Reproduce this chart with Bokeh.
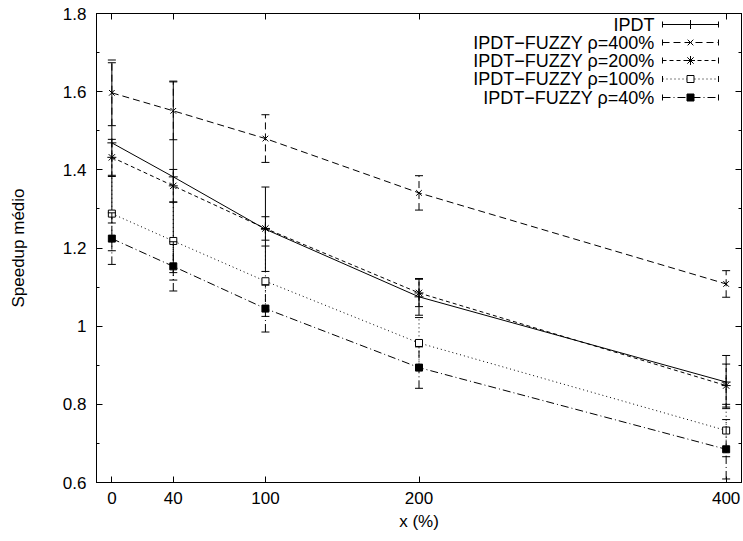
from bokeh.plotting import figure
from bokeh.models import (Range1d, LinearAxis, FixedTicker, SingleIntervalTicker,
                          Label, CustomJSTickFormatter)
from bokeh.embed import file_html
from bokeh.resources import INLINE

# ---------------- data ----------------
x_vals = [0, 40, 100, 200, 400]
x_ticks = [0, 40, 100, 200, 400]

ipdt = [1.469, 1.382, 1.248, 1.075, 0.857]
ipdt_err = [0.205, 0.245, 0.108, 0.047, 0.068]

f400 = [1.597, 1.551, 1.480, 1.341, 1.108]
f400_err = [0.084, 0.074, 0.061, 0.044, 0.034]

f200 = [1.432, 1.359, 1.250, 1.085, 0.848]
f200_err = [0.046, 0.042, 0.030, 0.035, 0.055]

f100 = [1.288, 1.218, 1.115, 0.957, 0.733]
f100_err = [0.095, 0.100, 0.090, 0.065, 0.067]

f40 = [1.224, 1.153, 1.045, 0.894, 0.685]
f40_err = [0.066, 0.063, 0.060, 0.053, 0.076]

labels = ["IPDT", "IPDT\u2212FUZZY \u03c1=400%", "IPDT\u2212FUZZY \u03c1=200%",
          "IPDT\u2212FUZZY \u03c1=100%", "IPDT\u2212FUZZY \u03c1=40%"]

# ---------------- layout ----------------
W, H = 743, 541
FL, FR, FT, FB = 96, 741, 13, 482
X0, X1 = -10, 410
Y0, Y1 = 0.6, 1.8
FONT = "Liberation Sans"
FS = "17px"
LFS = "18px"

def dx(px):
    return X0 + (px - FL) * (X1 - X0) / (FR - FL)

def dy(py):
    return Y0 + (FB - py) * (Y1 - Y0) / (FB - FT)

p = figure(width=W, height=H, output_backend="svg", toolbar_location=None,
           x_range=Range1d(X0, X1), y_range=Range1d(Y0, Y1),
           min_border_left=FL, min_border_right=W - FR,
           min_border_top=FT, min_border_bottom=H - FB)
p.background_fill_color = "white"
p.border_fill_color = "white"
p.outline_line_color = "black"
p.outline_line_width = 1
p.outline_line_alpha = 1
p.xgrid.visible = False
p.ygrid.visible = False

xt = FixedTicker(ticks=x_ticks)
yt = SingleIntervalTicker(interval=0.2, num_minor_ticks=2)

for ax in p.xaxis:
    ax.ticker = xt
for ax in p.yaxis:
    ax.ticker = yt

def style_axis(ax):
    ax.axis_line_color = "black"
    ax.major_tick_in = 6
    ax.major_tick_out = 0
    ax.minor_tick_in = 3
    ax.minor_tick_out = 0
    ax.major_tick_line_color = "black"
    ax.minor_tick_line_color = "black"
    ax.major_label_text_font = FONT
    ax.major_label_text_font_size = FS
    ax.major_label_text_color = "black"
    ax.axis_label_text_font = FONT
    ax.axis_label_text_font_size = FS
    ax.axis_label_text_font_style = "normal"
    ax.axis_label_text_color = "black"

style_axis(p.xaxis[0])
style_axis(p.yaxis[0])
p.xaxis[0].axis_label = "x (%)"
p.xaxis[0].major_label_standoff = 9
p.xaxis[0].axis_label_standoff = 5
p.yaxis[0].axis_label = "Speedup médio"
p.yaxis[0].major_label_standoff = 10
p.yaxis[0].axis_label_standoff = 32

blank = CustomJSTickFormatter(code="return ''")
top_ax = LinearAxis(ticker=xt, formatter=blank)
style_axis(top_ax)
top_ax.major_label_standoff = 0
p.add_layout(top_ax, "above")
right_ax = LinearAxis(ticker=yt, formatter=blank)
style_axis(right_ax)
right_ax.major_label_standoff = 0
p.add_layout(right_ax, "right")

series = [
    (ipdt, ipdt_err, "solid", "cross", "black", 9),
    (f400, f400_err, "7 4", "x", "black", 8),
    (f200, f200_err, "4 3", "asterisk", "black", 9),
    (f100, f100_err, "1 3", "square", "white", 7),
    (f40, f40_err, "8 3 1 3", "square", "black", 7),
]

for ys, es, dash, mk, fill, ms in series:
    lo = [y - e for y, e in zip(ys, es)]
    hi = [y + e for y, e in zip(ys, es)]
    p.line(x_vals, ys, line_color="black", line_width=1, line_dash=dash)
    p.segment(x0=x_vals, y0=lo, x1=x_vals, y1=hi, line_color="black",
              line_width=1, line_dash=dash)
    p.scatter(x_vals, lo, marker="dash", size=8, line_color="black", line_width=1)
    p.scatter(x_vals, hi, marker="dash", size=8, line_color="black", line_width=1)
    p.scatter(x_vals, ys, marker=mk, size=ms, line_color="black",
              fill_color=fill, line_width=1)

# ---------------- custom gnuplot-style key ----------------
row_y = [24, 42, 60, 78.5, 97]
TX, L0, L1, LM = 654, 662, 718, 690
cap_h = dy(0) - dy(3)
for (ys, es, dash, mk, fill, ms), lab, ry in zip(series, labels, row_y):
    yy = dy(ry)
    p.add_layout(Label(x=dx(TX), y=yy, text=lab, text_align="right",
                       text_baseline="middle", text_font=FONT,
                       text_font_size=LFS, text_color="black"))
    p.line([dx(L0), dx(L1)], [yy, yy], line_color="black", line_width=1,
           line_dash=dash)
    p.segment(x0=[dx(L0), dx(L1)], y0=[yy - cap_h] * 2,
              x1=[dx(L0), dx(L1)], y1=[yy + cap_h] * 2,
              line_color="black", line_width=1)
    p.scatter([dx(LM)], [yy], marker=mk, size=ms, line_color="black",
              fill_color=fill, line_width=1)

open("out.html", "w").write(file_html(p, INLINE))
